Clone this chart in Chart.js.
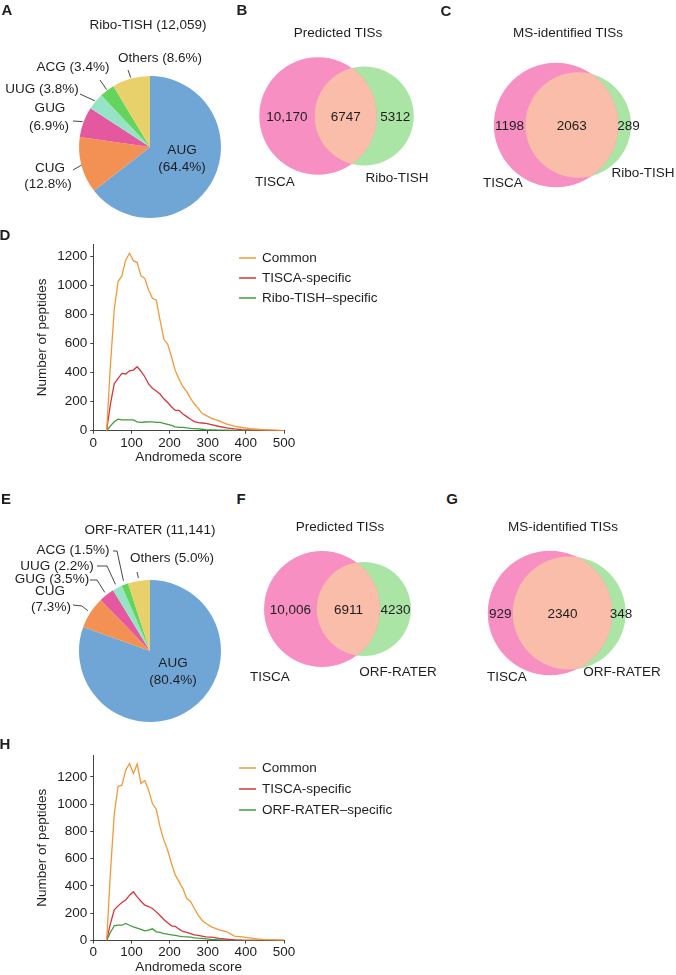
<!DOCTYPE html>
<html>
<head>
<meta charset="utf-8">
<script src="https://cdn.jsdelivr.net/npm/chart.js@4.4.1/dist/chart.umd.min.js"></script>
<style>
  body { margin: 0; background: #fff; }
  #fig { position: relative; width: 676px; height: 975px; overflow: hidden;
         font-family: "Liberation Sans", Arial, sans-serif; color: #1e1e1e; }
  #fig canvas { position: absolute; }
  .t { position: absolute; white-space: nowrap; font-size: 13.5px; line-height: 1;
       transform: translate(-50%, -50%); }
  .panel { font-weight: bold; font-size: 15px; }
</style>
</head>
<body>
<div id="fig"></div>
<script>
// --- data ---
const codons = ['AUG', 'CUG', 'GUG', 'UUG', 'ACG', 'Others'];
const riboTishPct = [64.4, 12.8, 6.9, 3.8, 3.4, 8.6];
const orfRaterPct = [80.4, 7.3, 3.5, 2.2, 1.5, 5.0];

// [TISCA only, shared, other tool only]
const riboPredicted = [10170, 6747, 5312];
const riboMS = [1198, 2063, 289];
const orfPredicted = [10006, 6911, 4230];
const orfMS = [929, 2340, 348];

const scoreTicks = [0, 100, 200, 300, 400, 500];
const countTicks = [0, 200, 400, 600, 800, 1000, 1200];

const scoreBins = [35, 45, 55, 65, 75, 85, 95, 105, 115, 125, 135, 145, 155, 165, 175, 185, 195, 205,
  215, 225, 235, 245, 255, 265, 275, 285, 295, 310, 330, 350, 370, 390, 410, 430, 450, 470, 490, 500];

const riboCommon = [0, 456, 837, 1028, 1069, 1177, 1223, 1172, 1159, 1067, 1050, 970, 913, 901, 763, 630, 598, 510,
  414, 354, 303, 269, 223, 184, 154, 120, 106, 85, 68, 45, 31, 22, 14, 10, 6, 4, 2, 1];
const riboTiscaOnly = [0, 185, 325, 360, 395, 391, 413, 418, 441, 410, 372, 322, 292, 274, 253, 220, 194, 165,
  140, 140, 115, 97, 79, 63, 55, 53, 51, 42, 29, 19, 12, 8, 6, 4, 3, 2, 1, 0];
const riboOnly = [0, 33, 62, 80, 74, 74, 74, 74, 61, 58, 60, 61, 61, 58, 58, 50, 43, 36,
  26, 23, 23, 19, 16, 14, 12, 10, 8, 6, 4, 3, 2, 1, 1, 0, 0, 0, 0, 0];

const orfCommon = [0, 501, 931, 1129, 1139, 1249, 1298, 1224, 1293, 1151, 1173, 1102, 1004, 963, 833, 736, 662, 565,
  479, 430, 381, 308, 286, 235, 186, 149, 127, 100, 78, 64, 32, 27, 20, 12, 7, 5, 2, 0];
const orfTiscaOnly = [0, 125, 225, 254, 279, 296, 332, 357, 320, 288, 259, 249, 235, 210, 183, 154, 130, 108,
  103, 83, 66, 59, 51, 42, 37, 32, 27, 24, 15, 10, 5, 2, 1, 1, 0, 0, 0, 0];
const orfOnly = [0, 61, 108, 112, 112, 125, 112, 100, 90, 81, 71, 76, 86, 64, 59, 51, 46, 42,
  37, 32, 29, 27, 24, 20, 17, 15, 12, 8, 5, 3, 2, 1, 0, 0, 0, 0, 0, 0];

const FONT = '"Liberation Sans", Arial, sans-serif';
const TXT = '#1e1e1e';
const codonColors = ['#6fa6d6', '#f39155', '#e4589f', '#96e3c6', '#63d45c', '#e8d06b'];
const lineColors = ['#f2993a', '#d8343b', '#3d9f37'];
const vennColors = { left: '#f78fc3', right: '#abe5a5', both: '#f9bda9' };

Chart.defaults.font.family = FONT;
Chart.defaults.font.size = 13.5;
Chart.defaults.color = TXT;

const fig = document.getElementById('fig');

function makeCanvas(left, top, w, h) {
  const c = document.createElement('canvas');
  c.width = w; c.height = h;
  c.style.left = left + 'px'; c.style.top = top + 'px';
  c.style.width = w + 'px'; c.style.height = h + 'px';
  fig.appendChild(c);
  return c;
}

function addText(txt, x, y, cls) {
  const d = document.createElement('div');
  d.className = 't' + (cls ? ' ' + cls : '');
  d.textContent = txt;
  d.style.left = x + 'px'; d.style.top = y + 'px';
  fig.appendChild(d);
}

const fmt = n => n >= 10000 ? n.toLocaleString('en-US') : String(n);

// --- pies ---
const pieLabels = {
  id: 'pieLabels',
  afterDraw(chart, args, o) {
    const ctx = chart.ctx;
    const arcs = chart.getDatasetMeta(0).data;
    const vals = chart.data.datasets[0].data;
    ctx.save();
    ctx.font = '13.5px ' + FONT;
    ctx.fillStyle = TXT;
    ctx.textAlign = 'center';
    ctx.textBaseline = 'middle';
    ctx.strokeStyle = '#333';
    ctx.lineWidth = 0.9;
    o.spots.forEach((s, i) => {
      const a = arcs[i].getProps(['x', 'y', 'startAngle', 'endAngle', 'outerRadius'], true);
      const mid = (a.startAngle + a.endAngle) / 2;
      const name = chart.data.labels[i];
      const pct = '(' + vals[i].toFixed(1) + '%)';
      const lines = s.split ? [name, pct] : [name + ' ' + pct];
      lines.forEach((t, j) => ctx.fillText(t, s.at[j][0], s.at[j][1] - o.top));
      if (s.lead) {
        ctx.beginPath();
        s.lead.forEach((p, j) => j ? ctx.lineTo(p[0], p[1] - o.top) : ctx.moveTo(p[0], p[1] - o.top));
        const rr = a.outerRadius + s.gap;
        ctx.lineTo(a.x + Math.cos(mid) * rr, a.y + Math.sin(mid) * rr);
        ctx.stroke();
      }
    });
    ctx.restore();
  }
};

function drawPie(pct, left, top, w, h, pad, spots) {
  new Chart(makeCanvas(left, top, w, h), {
    type: 'pie',
    data: { labels: codons, datasets: [{ data: pct, backgroundColor: codonColors,
      borderWidth: 0, hoverBorderWidth: 0, hoverOffset: 0 }] },
    options: {
      responsive: false, animation: false, events: [],
      layout: { padding: pad },
      plugins: { legend: { display: false }, tooltip: { enabled: false },
        pieLabels: { spots, top } }
    },
    plugins: [pieLabels]
  });
}

drawPie(riboTishPct, 0, 0, 230, 230, { left: 79, right: 9, top: 76, bottom: 12 }, [
  { split: true, at: [[182, 150], [182, 167]] },
  { split: true, at: [[50, 168], [48, 184]], lead: [[73, 170]], gap: 0 },
  { split: true, at: [[50, 108], [49, 126]], lead: [[73, 121]], gap: 1 },
  { at: [[42, 89]], lead: [[80, 94]], gap: 1 },
  { at: [[73, 67]], lead: [[100, 80]], gap: 1 },
  { at: [[160, 58]], lead: [[128, 70]], gap: 1 }
]);

drawPie(orfRaterPct, 0, 470, 230, 260, { left: 79, right: 9, top: 110, bottom: 8 }, [
  { split: true, at: [[173, 663], [173, 680]] },
  { split: true, at: [[50, 591], [51, 607]], lead: [[73, 605], [82, 606]], gap: 3 },
  { at: [[52, 579]], lead: [[90, 580], [97, 580]], gap: 3 },
  { at: [[57, 566]], lead: [[97, 566], [107, 566]], gap: 4 },
  { at: [[73, 550]], lead: [[113, 551], [117, 551]], gap: 4 },
  { at: [[172, 558]], lead: [[137, 572]], gap: 3 }
]);

// --- venns ---
function lensArea(r1, r2, d) {
  if (d >= r1 + r2) return 0;
  if (d <= Math.abs(r1 - r2)) return Math.PI * Math.min(r1, r2) ** 2;
  const a1 = Math.acos((d * d + r1 * r1 - r2 * r2) / (2 * d * r1));
  const a2 = Math.acos((d * d + r2 * r2 - r1 * r1) / (2 * d * r2));
  return r1 * r1 * (a1 - Math.sin(2 * a1) / 2) + r2 * r2 * (a2 - Math.sin(2 * a2) / 2);
}

function centreGap(r1, r2, area) {
  let lo = Math.abs(r1 - r2), hi = r1 + r2;
  for (let i = 0; i < 60; i++) {
    const m = (lo + hi) / 2;
    if (lensArea(r1, r2, m) > area) lo = m; else hi = m;
  }
  return (lo + hi) / 2;
}

const vennPlugin = {
  id: 'venn',
  afterDatasetsDraw(chart, args, o) {
    const ctx = chart.ctx;
    const A = chart.getDatasetMeta(0).data[0], B = chart.getDatasetMeta(1).data[0];
    const ra = A.options.radius, rb = B.options.radius;
    ctx.save();
    ctx.beginPath(); ctx.arc(A.x, A.y, ra, 0, Math.PI * 2); ctx.clip();
    ctx.beginPath(); ctx.arc(B.x, B.y, rb, 0, Math.PI * 2);
    ctx.fillStyle = vennColors.both; ctx.fill();
    ctx.restore();
    ctx.save();
    ctx.font = '13.5px ' + FONT; ctx.fillStyle = TXT;
    ctx.textAlign = 'center'; ctx.textBaseline = 'middle';
    const xs = [(A.x - ra + B.x - rb) / 2, (B.x - rb + A.x + ra) / 2, (A.x + ra + B.x + rb) / 2 + o.nudge];
    o.counts.forEach((n, i) => ctx.fillText(fmt(n), xs[i], A.y + 1));
    ctx.restore();
  }
};

function drawVenn(counts, left, top, w, h, cx, k, nudge) {
  const rA = Math.sqrt((counts[0] + counts[1]) / Math.PI);
  const rB = Math.sqrt((counts[1] + counts[2]) / Math.PI);
  const d = centreGap(rA, rB, counts[1]);
  const rad = c => c.chart.scales.x.getPixelForValue(c.dataset.size) - c.chart.scales.x.getPixelForValue(0);
  new Chart(makeCanvas(left, top, w, h), {
    type: 'scatter',
    data: { datasets: [
      { data: [{ x: 0, y: 0 }], size: rA, pointBackgroundColor: vennColors.left },
      { data: [{ x: d, y: 0 }], size: rB, pointBackgroundColor: vennColors.right }
    ] },
    options: {
      responsive: false, animation: false, events: [],
      elements: { point: { radius: rad, hoverRadius: rad, borderWidth: 0 } },
      scales: {
        x: { type: 'linear', display: false, min: -cx / k, max: (w - cx) / k },
        y: { type: 'linear', display: false, min: -1, max: 1 }
      },
      plugins: { legend: { display: false }, tooltip: { enabled: false }, venn: { counts, nudge } }
    },
    plugins: [vennPlugin]
  });
}

drawVenn(riboPredicted, 230, 49, 210, 134, 88, 0.8, 0);
drawVenn(riboMS, 440, 55, 236, 140, 116, 1.93, 4);
drawVenn(orfPredicted, 230, 542, 210, 134, 92, 0.79, 0);
drawVenn(orfMS, 440, 543, 236, 140, 110, 1.93, 2);

// --- score distributions ---
const lineLegend = {
  id: 'lineLegend',
  afterDraw(chart, args, o) {
    const ctx = chart.ctx;
    ctx.save();
    ctx.font = '13.5px ' + FONT; ctx.fillStyle = TXT; ctx.textBaseline = 'middle';
    chart.data.datasets.forEach((ds, i) => {
      const y = o.y + i * o.dy;
      ctx.strokeStyle = ds.borderColor; ctx.lineWidth = 1.5;
      ctx.beginPath(); ctx.moveTo(o.x, y); ctx.lineTo(o.x + 17, y); ctx.stroke();
      ctx.fillText(ds.label, o.x + 23, y);
    });
    ctx.restore();
  }
};

function drawScores(series, names, top, h, yMax, padTop, xAxisH, legY, legDy) {
  new Chart(makeCanvas(0, top, 420, h), {
    type: 'line',
    data: { datasets: series.map((s, i) => ({
      label: names[i],
      data: scoreBins.map((x, j) => ({ x, y: s[j] })),
      borderColor: lineColors[i], borderWidth: 1.3, pointRadius: 0, tension: 0
    })) },
    options: {
      responsive: false, animation: false, events: [],
      layout: { padding: { left: 30, right: 136, top: padTop, bottom: 0 } },
      plugins: { legend: { display: false }, tooltip: { enabled: false },
        lineLegend: { x: 239, y: legY, dy: legDy } },
      scales: {
        x: {
          type: 'linear', min: 0, max: 500,
          afterBuildTicks: s => { s.ticks = scoreTicks.map(value => ({ value })); },
          ticks: { padding: 1, color: TXT, callback: v => String(v) },
          grid: { drawOnChartArea: false, tickLength: 3, color: '#444' },
          border: { color: '#444' },
          title: { display: true, text: 'Andromeda score', color: TXT, padding: 0 },
          afterFit: s => { s.height = xAxisH; }
        },
        y: {
          min: 0, max: yMax,
          afterBuildTicks: s => { s.ticks = countTicks.map(value => ({ value })); },
          ticks: { padding: 3, color: TXT, callback: v => String(v) },
          grid: { drawOnChartArea: false, tickLength: 3, color: '#444' },
          border: { color: '#444' },
          title: { display: true, text: 'Number of peptides', color: TXT, padding: 4 },
          afterFit: s => { s.width = 63.3; }
        }
      }
    },
    plugins: [lineLegend]
  });
}

drawScores([riboCommon, riboTiscaOnly, riboOnly], ['Common', 'TISCA-specific', 'Ribo-TISH\u2013specific'],
  230, 235, 1287, 14, 34.3, 28, 20);
drawScores([orfCommon, orfTiscaOnly, orfOnly], ['Common', 'TISCA-specific', 'ORF-RATER\u2013specific'],
  735, 240, 1360, 20, 34.5, 33, 21);

// --- text ---
[['A', 7, 9], ['B', 242, 9], ['C', 446, 10], ['D', 5, 234],
 ['E', 6, 498], ['F', 241, 498], ['G', 452, 498], ['H', 5, 743]]
  .forEach(p => addText(p[0], p[1], p[2], 'panel'));

addText('Ribo-TISH (' + (riboPredicted[1] + riboPredicted[2]).toLocaleString('en-US') + ')', 148, 25);
addText('ORF-RATER (' + (orfPredicted[1] + orfPredicted[2]).toLocaleString('en-US') + ')', 150, 530);
addText('Predicted TISs', 338, 33);
addText('MS-identified TISs', 568, 33);
addText('Predicted TISs', 340, 527);
addText('MS-identified TISs', 563, 527);

addText('TISCA', 275, 182); addText('Ribo-TISH', 397, 178);
addText('TISCA', 503, 183); addText('Ribo-TISH', 643, 173);
addText('TISCA', 270, 677); addText('ORF-RATER', 398, 672);
addText('TISCA', 507, 677); addText('ORF-RATER', 622, 672);
</script>
</body>
</html>
